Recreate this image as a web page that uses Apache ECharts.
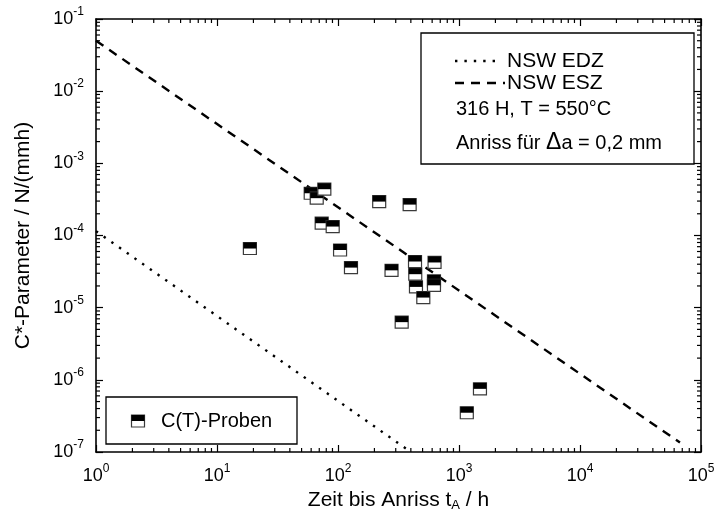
<!DOCTYPE html>
<html>
<head>
<meta charset="utf-8">
<script src="https://cdn.jsdelivr.net/npm/echarts@6/dist/echarts.min.js"></script>
<style>
  html, body { margin: 0; padding: 0; background: #fff; }
  #chart { width: 716px; height: 519px; }
</style>
</head>
<body>
<div id="chart"></div>
<script>
// C(T) specimens: time to crack initiation (h) and C* parameter (N/(mm h))
const timeHours = [18.7, 59.5, 66.7, 77.1, 73.3, 90.4, 104, 128, 219, 391, 277,
                   433, 435, 441, 507, 628, 621, 621, 336, 1160, 1490];
const cStar = [6.6e-5, 3.85e-4, 3.29e-4, 4.38e-4, 1.48e-4, 1.33e-4, 6.3e-5, 3.59e-5,
               2.95e-4, 2.68e-4, 3.29e-5, 4.36e-5, 2.91e-5, 1.94e-5, 1.38e-5, 4.23e-5,
               2.35e-5, 2.04e-5, 6.3e-6, 3.5e-7, 7.5e-7];

// NSW prediction lines (EDZ dotted, ESZ dashed)
const edzTime = [1, 400];
const edzC = [1.15e-4, 1e-7];
const eszTime = [1, 67000];
const eszC = [5e-2, 1.35e-7];

// axis ranges (decades)
const X_MIN = 1, X_MAX = 1e5, Y_MIN = 1e-7, Y_MAX = 1e-1;
const xExponents = [0, 1, 2, 3, 4];
const yExponents = [-7, -6, -5, -4, -3, -2];

const FONT = '"Liberation Sans", Arial, Helvetica, sans-serif';

// 2..9 times each decade start
function minorTicks(exponents) {
  const out = [];
  exponents.forEach(e => {
    for (let k = 2; k <= 9; k++) out.push(Number((k * Math.pow(10, e)).toPrecision(10)));
  });
  return out;
}

const powerLabel = {
  show: true,
  formatter: v => '{b|10}{s|' + Math.round(Math.log10(v)) + '}',
  rich: {
    b: { fontSize: 18, lineHeight: 26, fontFamily: FONT, color: '#000' },
    s: { fontSize: 12, lineHeight: 10, verticalAlign: 'top', fontFamily: FONT, color: '#000' }
  }
};

function logAxis(min, max, position, opts) {
  return Object.assign({
    type: 'log', logBase: 10, min: min, max: max, position: position,
    axisLine: { show: true, lineStyle: { color: '#000', width: 1.6 } },
    axisTick: { show: true, inside: true, length: 7, lineStyle: { color: '#000', width: 1.2 } },
    axisLabel: { show: false },
    splitLine: { show: false }
  }, opts || {});
}

const xAxes = [
  logAxis(X_MIN, X_MAX, 'bottom', {
    axisLabel: Object.assign({ margin: 11 }, powerLabel),
    name: '{n|Zeit bis Anriss t}{sub|A}{n| / h}',
    nameLocation: 'middle', nameGap: 32,
    nameTextStyle: {
      rich: {
        n: { fontSize: 21, fontFamily: FONT, color: '#000', lineHeight: 24 },
        sub: { fontSize: 13, fontFamily: FONT, color: '#000', lineHeight: 8, verticalAlign: 'bottom' }
      }
    }
  }),
  logAxis(X_MIN, X_MAX, 'top')
];

const yAxes = [
  logAxis(Y_MIN, Y_MAX, 'left', {
    axisLabel: Object.assign({ margin: 12 }, powerLabel),
    name: 'C*-Parameter / N/(mmh)',
    nameLocation: 'middle', nameGap: 62,
    nameTextStyle: { fontSize: 21, fontFamily: FONT, color: '#000' }
  }),
  logAxis(Y_MIN, Y_MAX, 'right')
];

// half-filled square marker: white box with black upper half
function halfFilledSquare(params, api) {
  const p = api.coord([api.value(0), api.value(1)]);
  const w = 13, h = 12;
  return {
    type: 'group',
    children: [
      { type: 'rect', shape: { x: p[0] - w / 2, y: p[1] - h / 2, width: w, height: h },
        style: { fill: '#fff', stroke: '#3a3a3a', lineWidth: 1.2 } },
      { type: 'rect', shape: { x: p[0] - w / 2, y: p[1] - h / 2, width: w, height: h / 2 },
        style: { fill: '#000' } }
    ]
  };
}

const chart = echarts.init(document.getElementById('chart'));

chart.setOption({
  animation: false,
  grid: { left: 96, right: 15, top: 19, bottom: 67, outerBoundsMode: 'none' },
  xAxis: xAxes,
  yAxis: yAxes,
  series: [
    {
      name: 'NSW EDZ', type: 'line', xAxisIndex: 0, yAxisIndex: 0,
      data: edzTime.map((t, i) => [t, edzC[i]]),
      showSymbol: false, z: 2,
      lineStyle: { color: '#000', width: 2.4, type: [2.4, 7], cap: 'butt' }
    },
    {
      name: 'NSW ESZ', type: 'line', xAxisIndex: 0, yAxisIndex: 0,
      data: eszTime.map((t, i) => [t, eszC[i]]),
      showSymbol: false, z: 2,
      lineStyle: { color: '#000', width: 2.4, type: [9, 7], cap: 'butt' }
    },
    {
      name: 'C(T)-Proben', type: 'custom', xAxisIndex: 0, yAxisIndex: 0,
      data: timeHours.map((t, i) => [t, cStar[i]]),
      renderItem: halfFilledSquare, z: 3
    }
  ]
});

// minor ticks (inward, all four sides), positioned through the axis scales
const minorEls = [];
function px(v) { return chart.convertToPixel({ xAxisIndex: 0 }, v); }
function py(v) { return chart.convertToPixel({ yAxisIndex: 0 }, v); }
const yB = py(Y_MIN), yT = py(Y_MAX), xL = px(X_MIN), xR = px(X_MAX);
function seg(x1, y1, x2, y2) {
  return { type: 'line', z: 4, shape: { x1: x1, y1: y1, x2: x2, y2: y2 },
           style: { stroke: '#000', lineWidth: 1.2 } };
}
minorTicks(xExponents).forEach(v => {
  const x = px(v);
  if (isFinite(x)) { minorEls.push(seg(x, yB, x, yB - 4)); minorEls.push(seg(x, yT, x, yT + 4)); }
});
minorTicks(yExponents).forEach(v => {
  const y = py(v);
  if (isFinite(y)) { minorEls.push(seg(xL, y, xL + 4, y)); minorEls.push(seg(xR, y, xR - 4, y)); }
});

const legendEls = [
  // legend box, upper right
  { type: 'rect', z: 10, shape: { x: 421, y: 33, width: 273, height: 131 },
    style: { fill: '#fff', stroke: '#000', lineWidth: 1.3 } },
  { type: 'line', z: 11, shape: { x1: 455, y1: 61, x2: 498, y2: 61 },
    style: { stroke: '#000', lineWidth: 2.4, lineDash: [2.4, 7] } },
  { type: 'text', z: 11, x: 507, y: 61,
    style: { text: 'NSW EDZ', font: '21px ' + FONT, fill: '#000', verticalAlign: 'middle' } },
  { type: 'line', z: 11, shape: { x1: 455, y1: 83, x2: 505, y2: 83 },
    style: { stroke: '#000', lineWidth: 2.4, lineDash: [9, 7] } },
  { type: 'text', z: 11, x: 507, y: 83,
    style: { text: 'NSW ESZ', font: '21px ' + FONT, fill: '#000', verticalAlign: 'middle' } },
  { type: 'text', z: 11, x: 456, y: 109,
    style: { text: '316 H, T = 550°C', font: '20px ' + FONT, fill: '#000', verticalAlign: 'middle' } },
  { type: 'text', z: 11, x: 456, y: 143,
    style: {
      text: '{a|Anriss für }{d|Δ}{a|a = 0,2 mm}', verticalAlign: 'middle',
      rich: {
        a: { fontSize: 20, fontFamily: FONT, fill: '#000' },
        d: { fontSize: 23, fontFamily: FONT, fill: '#000' }
      }
    } },
  // legend box, lower left
  { type: 'rect', z: 10, shape: { x: 106, y: 397, width: 191, height: 47 },
    style: { fill: '#fff', stroke: '#000', lineWidth: 1.3 } },
  { type: 'rect', z: 11, shape: { x: 131.5, y: 415, width: 13, height: 12 },
    style: { fill: '#fff', stroke: '#3a3a3a', lineWidth: 1.2 } },
  { type: 'rect', z: 12, shape: { x: 131.5, y: 415, width: 13, height: 6 },
    style: { fill: '#000' } },
  { type: 'text', z: 11, x: 161, y: 421,
    style: { text: 'C(T)-Proben', font: '20px ' + FONT, fill: '#000', verticalAlign: 'middle' } }
];

chart.setOption({ graphic: minorEls.concat(legendEls) });
</script>
</body>
</html>
